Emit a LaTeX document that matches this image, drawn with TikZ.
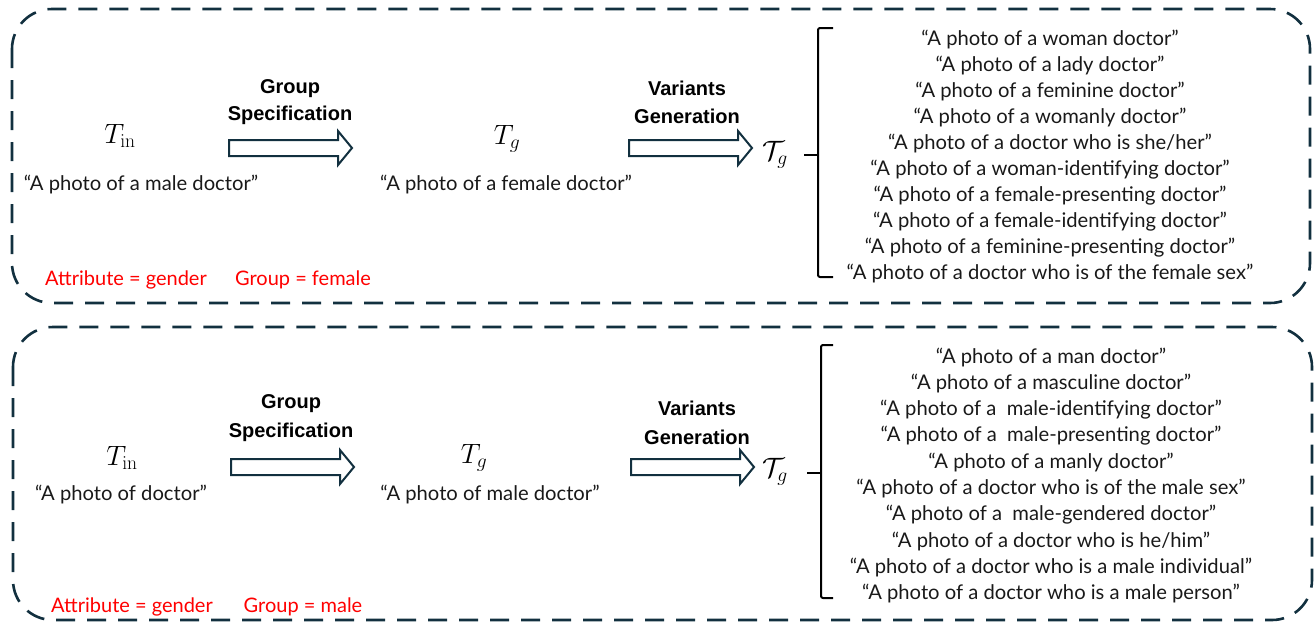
\documentclass[tikz,border=0pt]{standalone}
\usepackage{fix-cm}
\usepackage[no-math]{fontspec}
\setmainfont{Lato}
\newfontfamily\labf{Liberation Sans}
\definecolor{navy}{HTML}{12303F}
\newcommand\blockarrow[2]{\draw[arr] (#1,#2-8) -- ++(109,0) -- ++(0,-9) -- ++(14,17) -- ++(-14,17) -- ++(0,-9) -- ++(-109,0) -- cycle;}
\begin{document}
\begin{tikzpicture}[x=1pt,y=-1pt,
 box/.style={draw=navy, line width=2.6pt, dash pattern=on 19pt off 12pt, rounded corners=40pt},
 arr/.style={draw=navy, line width=2pt, fill=white, line join=miter},
 brk/.style={draw=black, line width=2pt, rounded corners=2pt},
 lst/.style={anchor=base, inner sep=0, text=black!90, font=\fontsize{20.2}{24}\selectfont},
 lab/.style={anchor=base, inner sep=0, font=\labf\bfseries\fontsize{20}{24}\selectfont},
 attr/.style={anchor=base, inner sep=0, text=red, font=\fontsize{20}{24}\selectfont},
 mth/.style={anchor=base, inner sep=0, font=\fontsize{28}{32}\selectfont},
 mthc/.style={anchor=base, inner sep=0, font=\fontsize{28}{32}\selectfont},
]
\useasboundingbox (0,0) rectangle (1315,622);
% ---------- top panel ----------
\draw[box] (12,9) rectangle (1310,303);
\node[mth] (tin1) at (120,143) {$T_{\mathrm{in}}$};
\node[lst] (q1) at (141,190) {“A photo of a male doctor”};
\node[lab] (gs1a) at (290,93) {Group};
\node[lab] (gs1b) at (290,120) {Specification};
\blockarrow{229}{148}
\node[mth] (tg1) at (507,144) {$T_{g}$};
\node[lst] (q1b) at (506,190) {“A photo of a female doctor”};
\node[lab] (vg1a) at (687,95) {Variants};
\node[lab] (vg1b) at (687,123) {Generation};
\blockarrow{629}{148}
\node[mthc] (tc1) at (775,160) {$\mathcal{T}_{g}$};
\draw[brk] (833,28) -- (818,28) -- (818,277) -- (833,277);
\draw[brk] (818,155) -- (804,155);
\foreach \t [count=\i from 0] in {%
“A photo of a woman doctor”,
“A photo of a lady doctor”,
“A photo of a feminine doctor”,
“A photo of a womanly doctor”,
“A photo of a doctor who is she/her”,
“A photo of a woman-identifying doctor”,
“A photo of a female-presenting doctor”,
“A photo of a female-identifying doctor”,
“A photo of a feminine-presenting doctor”,
“A photo of a doctor who is of the female sex”}
  \node[lst] (f\i) at (1050,45+26.1*\i) {\t};
\node[attr] (a1) at (126,285) {Attribute = gender};
\node[attr] (g1) at (303,285) {Group = female};
% ---------- bottom panel ----------
\draw[box] (13,327) rectangle (1312,620);
\node[mth] (tin2) at (122,465) {$T_{\mathrm{in}}$};
\node[lst] (q2) at (121,500) {“A photo of doctor”};
\node[lab] (gs2a) at (291,408) {Group};
\node[lab] (gs2b) at (291,437) {Specification};
\blockarrow{231}{467}
\node[mth] (tg2) at (474,463) {$T_{g}$};
\node[lst] (q2b) at (490,500) {“A photo of male doctor”};
\node[lab] (vg2a) at (697,415) {Variants};
\node[lab] (vg2b) at (697,444) {Generation};
\blockarrow{631}{467}
\node[mthc] (tc2) at (775,477) {$\mathcal{T}_{g}$};
\draw[brk] (833,345) -- (821,345) -- (821,598) -- (833,598);
\draw[brk] (821,473) -- (807,473);
\foreach \t [count=\i from 0] in {%
“A photo of a man doctor”,
“A photo of a masculine doctor”,
“A photo of a~ male-identifying doctor”,
“A photo of a~ male-presenting doctor”,
“A photo of a manly doctor”,
“A photo of a doctor who is of the male sex”,
“A photo of a~ male-gendered doctor”,
“A photo of a doctor who is he/him”,
“A photo of a doctor who is a male individual”,
“A photo of a doctor who is a male person”}
  \node[lst] (m\i) at (1051,363+26.3*\i) {\t};
\node[attr] (a2) at (132,612) {Attribute = gender};
\node[attr] (g2) at (303,612) {Group = male};
\end{tikzpicture}
\end{document}
